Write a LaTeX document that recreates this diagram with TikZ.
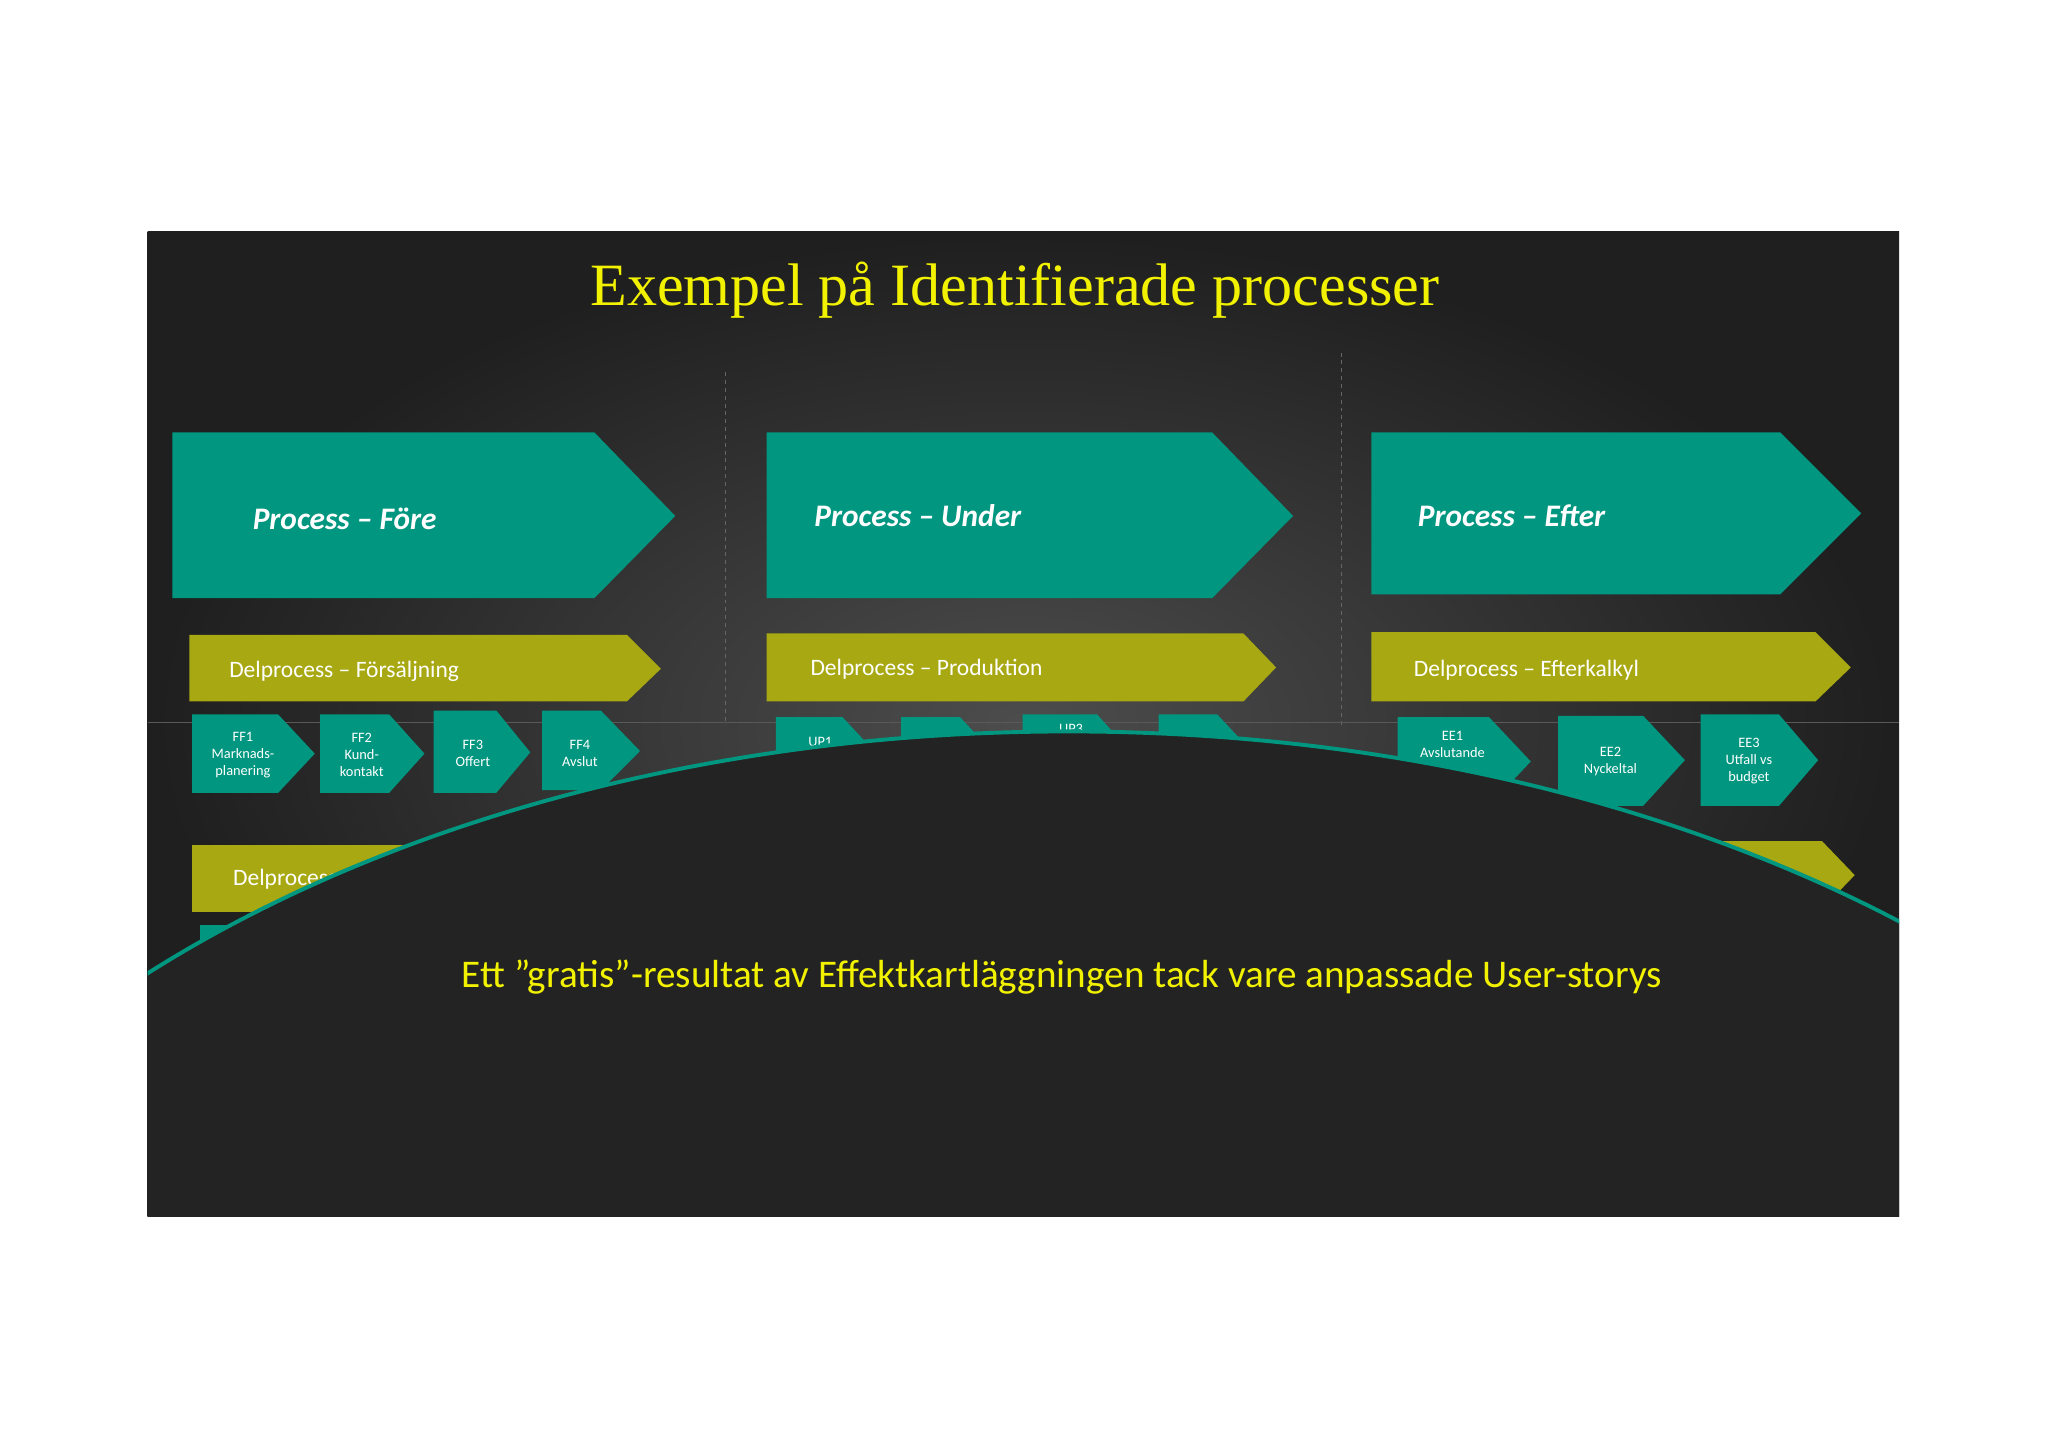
\documentclass[tikz,border=0pt]{standalone}
\usepackage{fontspec}
\setmainfont{Carlito}
\newfontfamily\titlefont{Liberation Serif}
\begin{document}
\begin{tikzpicture}[x=1pt,y=-1pt]
\definecolor{teal}{HTML}{00967F}
\definecolor{olive}{HTML}{A8A812}
\definecolor{ylw}{HTML}{F2F200}
\definecolor{dome}{HTML}{232323}
\tikzset{
 chev/.style={fill=teal},
 bar/.style={fill=olive},
 small/.style={text=white,font=\fontsize{11}{13}\selectfont,align=center},
 big/.style={text=white,font=\fontsize{24}{28}\selectfont\bfseries\itshape,anchor=west},
 mid/.style={text=white,font=\fontsize{18}{22}\selectfont,anchor=west}
}
\useasboundingbox (0,0) rectangle (1568,1108);
\fill[white] (0,0) rectangle (1568,1108);
\begin{scope}
\clip (113,177) rectangle (1454,931);
\fill[black!88] (113,177) rectangle (1454,931);
\shade[inner color=black!70, outer color=black!88] (113,177) rectangle (1454,931);
\node[text=ylw,font=\titlefont\fontsize{46}{50}\selectfont] (title) at (777,222) {Exempel på Identifierade processer};
\draw[black!60,dashed] (555,285) -- (555,555);
\draw[black!60,dashed] (1027,270) -- (1027,555);
\draw[black!65] (113,553) -- (1454,553);
% big chevrons
\fill[chev] (132,331) -- (455,331) -- (517,395) -- (455,458) -- (132,458) -- cycle;
\fill[chev] (587,331) -- (928,331) -- (990,395) -- (928,458) -- (587,458) -- cycle;
\fill[chev] (1050,331) -- (1363,331) -- (1425,393) -- (1363,455) -- (1050,455) -- cycle;
\node[big] (p1) at (190,397) {Process – Före};
\node[big] (p2) at (620,395) {Process – Under};
\node[big] (p3) at (1082,395) {Process – Efter};
% bars
\fill[bar] (145,486) -- (480,486) -- (506,512) -- (480,537) -- (145,537) -- cycle;
\fill[bar] (587,485) -- (952,485) -- (977,511) -- (952,537) -- (587,537) -- cycle;
\fill[bar] (1050,484) -- (1390,484) -- (1417,511) -- (1390,537) -- (1050,537) -- cycle;
\node[mid] (d1) at (172,514) {Delprocess – Försäljning};
\node[mid] (d2) at (617,512) {Delprocess – Produktion};
\node[mid] (d3) at (1079,513) {Delprocess – Efterkalkyl};
% small chevrons
\fill[chev] (147,547) -- (213,547) -- (241,577) -- (213,607) -- (147,607) -- cycle;
\node[small] (f1) at (186,578) {FF1\\Marknads-\\planering};
\fill[chev] (245,547) -- (298,547) -- (325,577) -- (298,607) -- (245,607) -- cycle;
\node[small] (f2) at (277,578) {FF2\\Kund-\\kontakt};
\fill[chev] (332,544) -- (380,544) -- (406,576) -- (380,607) -- (332,607) -- cycle;
\node[small] (f3) at (362,577) {FF3\\Offert};
\fill[chev] (415,544) -- (460,544) -- (490,575) -- (460,605) -- (415,605) -- cycle;
\node[small] (f4) at (444,577) {FF4\\Avslut};
\fill[chev] (594,549) -- (645,549) -- (672,578) -- (645,607) -- (594,607) -- cycle;
\node[small] (u1) at (628,568) {UP1};
\fill[chev] (690,549) -- (735,549) -- (762,578) -- (735,607) -- (690,607) -- cycle;
\fill[chev] (783,547) -- (840,547) -- (867,577) -- (840,607) -- (783,607) -- cycle;
\node[small] (u3) at (820,558) {UP3};
\fill[chev] (887,547) -- (932,547) -- (960,577) -- (932,607) -- (887,607) -- cycle;
\fill[chev] (1070,549) -- (1140,549) -- (1172,583) -- (1140,617) -- (1070,617) -- cycle;
\node[small] (e1) at (1112,570) {EE1\\Avslutande};
\fill[chev] (1193,548) -- (1258,548) -- (1290,582) -- (1258,617) -- (1193,617) -- cycle;
\node[small] (e2) at (1233,583) {EE2\\Nyckeltal};
\fill[chev] (1302,547) -- (1362,547) -- (1392,582) -- (1362,617) -- (1302,617) -- cycle;
\node[small] (e3) at (1339,583) {EE3\\Utfall vs\\budget};
% lower bars
\fill[bar] (147,647) rectangle (330,698);
\node[mid] (d4) at (175,673) {Delprocess};
\fill[bar] (1200,644) -- (1395,644) -- (1420,670) -- (1395,696) -- (1200,696) -- cycle;
\fill[chev] (153,708) rectangle (175,730);
% dome
\fill[dome] (818,1200) ellipse [x radius=1002, y radius=640];
\draw[teal,line width=3pt] (818,1200) ellipse [x radius=1002, y radius=640];
\end{scope}
\node[text=ylw,font=\fontsize{30}{34}\selectfont] (sub) at (813,748) {Ett ”gratis”-resultat av Effektkartläggningen tack vare anpassade User-storys};
\end{tikzpicture}
\end{document}
